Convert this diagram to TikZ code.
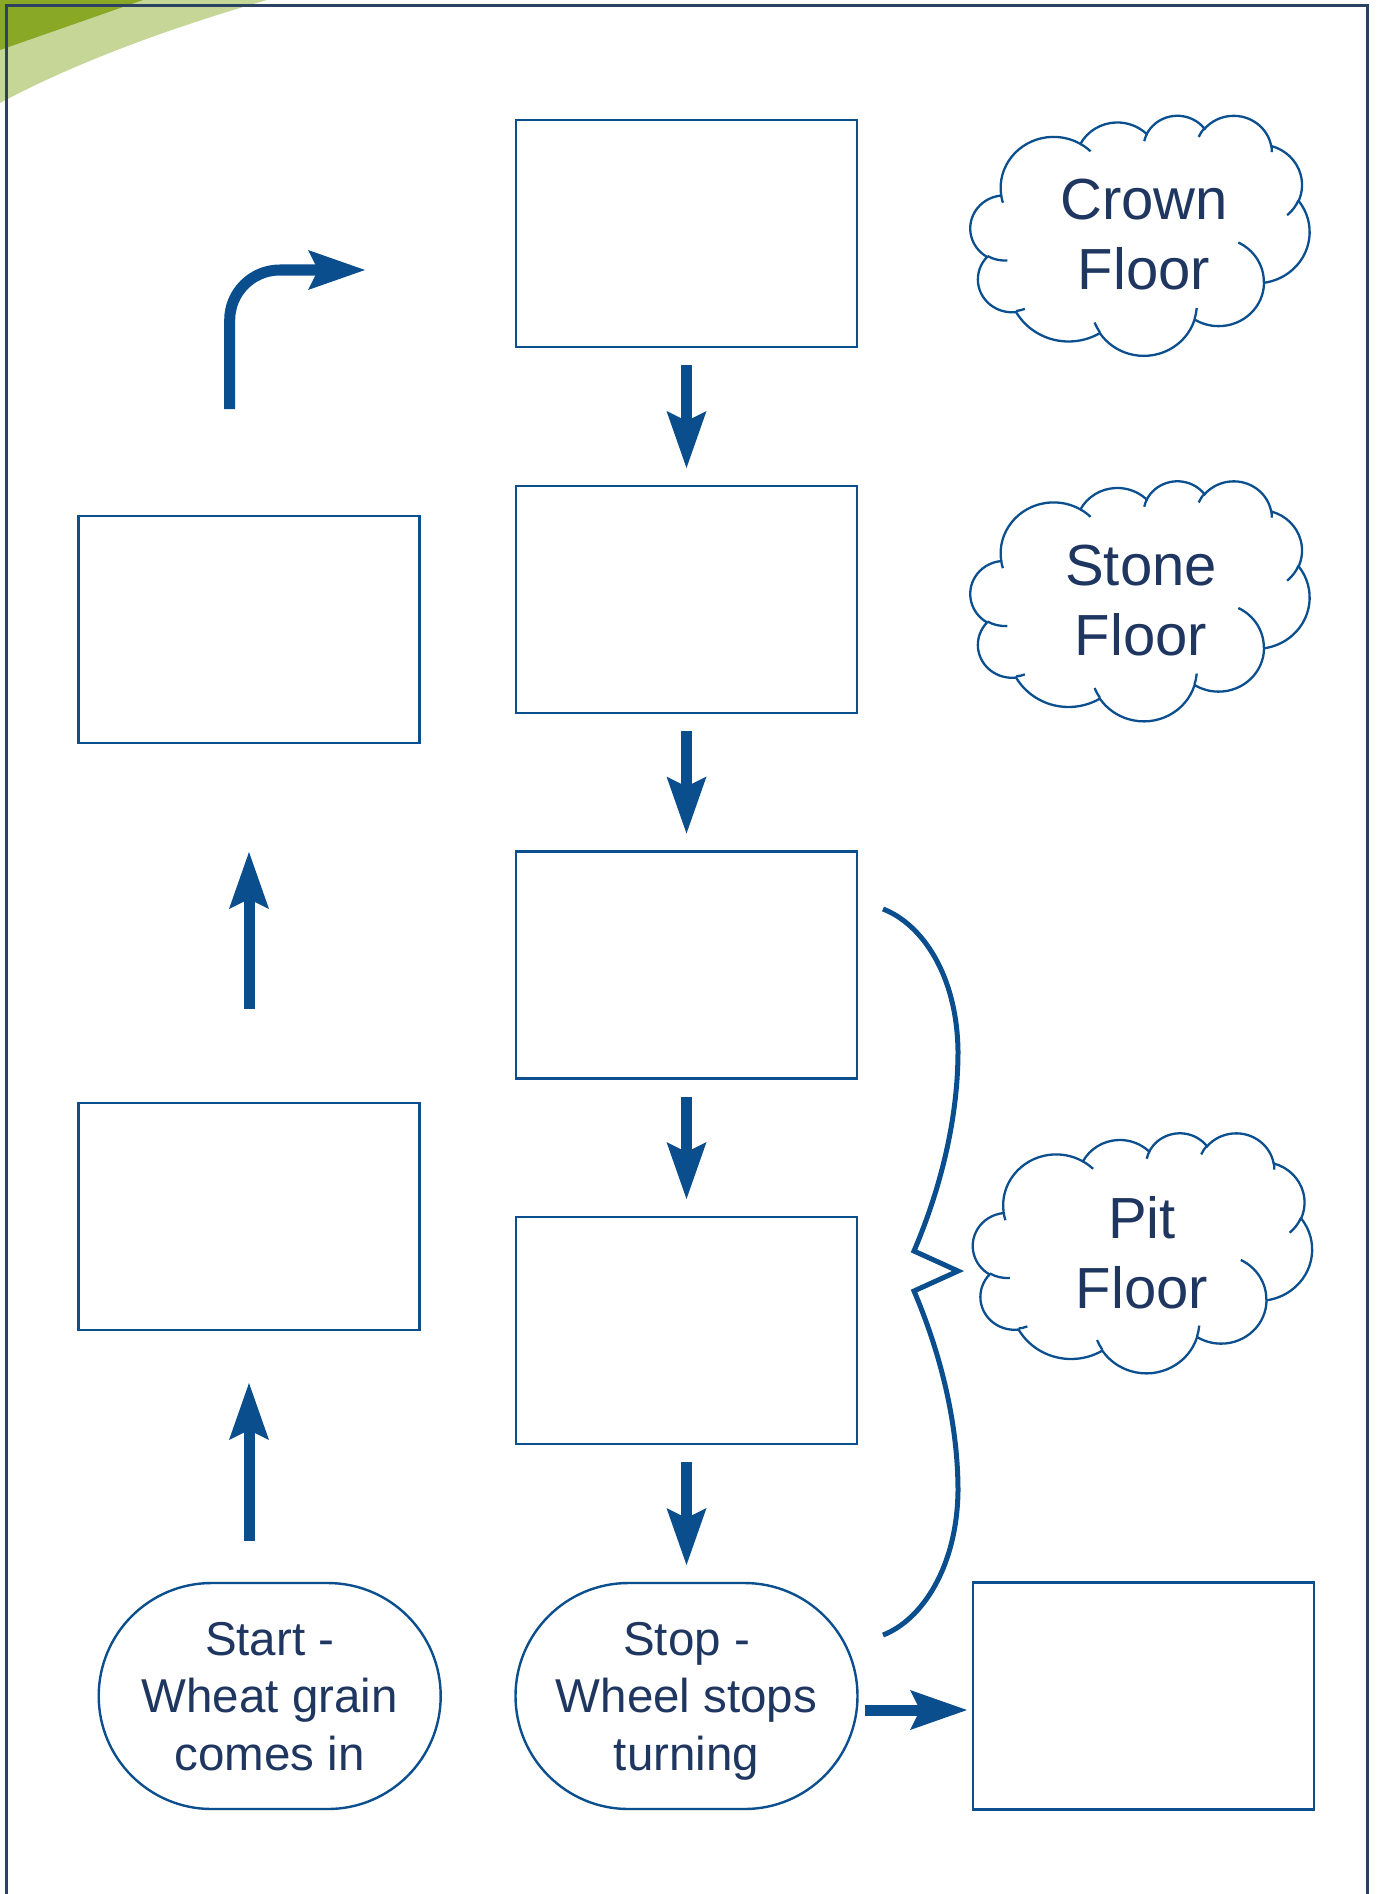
\documentclass[tikz,border=0pt]{standalone}
\usepackage{fontspec}
\setmainfont{Liberation Sans}
\usetikzlibrary{arrows.meta,calc}
\definecolor{boxblue}{HTML}{0B4F8F}
\definecolor{arrowblue}{HTML}{0A4E8E}
\definecolor{textnavy}{HTML}{1F3760}
\definecolor{framenavy}{HTML}{2C4263}
\definecolor{darkgreen}{HTML}{88A826}
\definecolor{lightgreen}{HTML}{C6D697}
\tikzset{
  stepbox/.style={draw=boxblue, line width=2.6pt, rectangle, minimum width=341pt, minimum height=227pt, inner sep=0pt, outer sep=0pt},
  stadium/.style={draw=boxblue, line width=2.4pt, rectangle, rounded corners=113pt, minimum width=342pt, minimum height=226pt, inner sep=0pt, outer sep=0pt, align=center, text=textnavy, text depth=0pt, font=\fontsize{47.5}{57.5}\selectfont},
  cloudtext/.style={align=center, text=textnavy, inner sep=0pt, font=\fontsize{58}{70}\selectfont},
  cloudline/.style={draw=boxblue, line width=2.3pt},
  flowarrow/.style={draw=arrowblue, line width=11pt, -{Stealth[length=57pt,width=40pt,inset=10pt,line width=0pt]}},
  bracestyle/.style={draw=arrowblue, line width=5pt},
  carc/.style n args={4}{/utils/exec={%
      \pgfmathsetmacro\cS{atan2(#1*sin(#3),#2*cos(#3))}%
      \pgfmathsetmacro\cE{atan2(#1*sin(#3+#4),#2*cos(#3+#4))}%
      \pgfmathsetmacro\cD{mod(\cE-\cS+720,360)}},
    start angle=\cS, delta angle=\cD, x radius=#1, y radius=#2},
}
\newcommand\cloudpath[2]{%
\begin{scope}[shift={(#1,#2)}, xscale=339/432, yscale=240/432]
\draw[cloudline] (39.00,143.70)
  arc[carc={67.53}{91.90}{-190.4875}{123.7805}]
  arc[carc={53.33}{72.67}{-144.1024}{89.9452}]
  arc[carc={43.65}{59.45}{-145.8079}{99.7230}]
  arc[carc={48.57}{65.95}{-130.9861}{117.2417}]
  arc[carc={53.33}{72.73}{-78.7089}{109.0269}]
  arc[carc={67.75}{92.20}{-46.2673}{130.2690}]
  arc[carc={57.85}{78.67}{0.6250}{114.0333}]
  arc[carc={67.52}{92.15}{22.4516}{115.1726}]
  arc[carc={77.20}{105.43}{66.2426}{75.7110}]
  arc[carc={43.60}{59.18}{-274.9421}{146.7356}]
  arc[carc={43.45}{59.45}{-246.8285}{152.5189}]
  -- cycle;
\draw[cloudline]
  (46.93,261.77) arc[carc={43.45}{59.45}{86.7420}{26.4295}]
  (69.28,348.99) arc[carc={43.60}{59.18}{73.6105}{11.4475}]
  (164.78,390.90) arc[carc={67.52}{92.15}{137.6242}{14.0811}]
  (288.27,347.51) arc[carc={67.52}{92.15}{6.4533}{15.9984}]
  (341.29,229.54) arc[carc={57.85}{78.67}{-70.2924}{70.9174}]
  (417.98,153.54) arc[carc={53.33}{72.73}{30.3180}{27.7515}]
  (383.24,54.26) arc[carc={48.57}{65.95}{-13.7443}{14.8589}]
  (290.78,39.52) arc[carc={48.57}{65.95}{-149.1815}{18.1954}]
  (221.41,47.20) arc[carc={43.65}{59.45}{-163.4943}{17.8405}]
  (140.00,51.92) arc[carc={67.53}{91.90}{-66.7070}{12.3194}]
  (41.27,157.89) arc[carc={67.53}{91.90}{157.6544}{11.8582}];
\end{scope}}
\begin{document}
\begin{tikzpicture}[x=1pt,y=1pt,yscale=-1]
\useasboundingbox (0,0) rectangle (1381,1894);
\fill[white] (0,0) rectangle (1381,1894);
% corner decoration
\fill[lightgreen] (0,0) -- (267,0) .. controls (180,25) and (80,60) .. (0,103) -- cycle;
\fill[darkgreen] (0,0) -- (143,0) -- (0,50) -- cycle;
% frame
\draw[framenavy, line width=2.6pt] (6.3,1894) -- (6.3,5.3) -- (1367.3,5.3) -- (1367.3,1894);
% boxes
\node[stepbox] (b1) at (686.5,233.5) {};
\node[stepbox] (b2) at (686.5,599.5) {};
\node[stepbox] (b3) at (686.5,965) {};
\node[stepbox] (b4) at (686.5,1330.5) {};
\node[stepbox] (l1) at (249,629.5) {};
\node[stepbox] (l2) at (249,1216.5) {};
\node[stepbox] (r1) at (1143.5,1696) {};
\node[stadium] (start) at (269.7,1696) {Start -\\Wheat grain\\comes in};
\node[stadium] (stop) at (686.5,1696) {Stop -\\Wheel stops\\turning};
% clouds
\cloudpath{970.5}{115}
\node[cloudtext] (crown) at (1144,235) {Crown\\Floor};
\cloudpath{970.5}{480.5}
\node[cloudtext] (stone) at (1141,600.5) {Stone\\Floor};
\cloudpath{973}{1132.5}
\node[cloudtext] (pit) at (1142,1253) {Pit\\Floor};
% arrows
\draw[flowarrow] ($(b1.south)+(0,18)$) -- ($(b2.north)+(0,-18)$);
\draw[flowarrow] ($(b2.south)+(0,18)$) -- ($(b3.north)+(0,-18)$);
\draw[flowarrow] ($(b3.south)+(0,18)$) -- ($(b4.north)+(0,-18)$);
\draw[flowarrow] ($(b4.south)+(0,18)$) -- ($(stop.north)+(0,-18)$);
\draw[flowarrow] ($(l2.north)+(0,-94)$) -- ($(l1.south)+(0,109)$);
\draw[flowarrow] ($(l2.south |- start.north)+(0,-42)$) -- ($(l2.south)+(0,53)$);
\draw[flowarrow, rounded corners=50pt] ($(l1.north)+(-19.3,-107)$) |- ($(b1.west)+(-151,36.5)$);
\draw[flowarrow] ($(stop.east)+(7,14)$) -- ($(r1.west)+(-6,14)$);
% brace
\draw[bracestyle] (883,909) .. controls (922,924) and (957,975) .. (958,1051)
  .. controls (958,1120) and (940,1190) .. (914,1251) -- (958,1271) -- (914,1291)
  .. controls (940,1352) and (958,1422) .. (958,1491)
  .. controls (957,1567) and (922,1620) .. (883,1635);
\end{tikzpicture}
\end{document}
